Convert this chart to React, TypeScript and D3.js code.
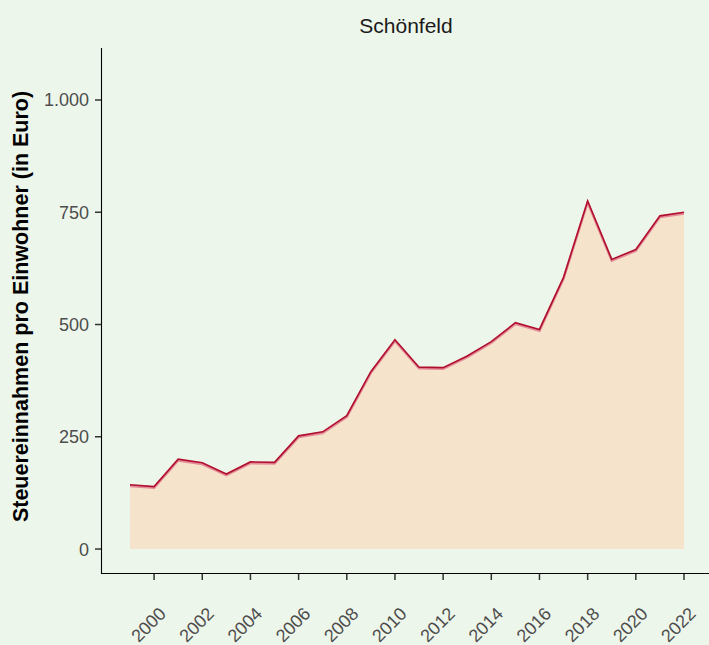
import React from "react";
import * as d3 from "d3";

const years = [1999, 2000, 2001, 2002, 2003, 2004, 2005, 2006, 2007, 2008, 2009, 2010, 2011, 2012, 2013, 2014, 2015, 2016, 2017, 2018, 2019, 2020, 2021, 2022];
const values = [143, 139, 200, 192, 167, 194, 193, 252, 261, 297, 395, 466, 405, 404, 430, 462, 504, 489, 605, 775, 645, 667, 742, 750];
const yTicks = [0, 250, 500, 750, 1000];
const xTicks = [2000, 2002, 2004, 2006, 2008, 2010, 2012, 2014, 2016, 2018, 2020, 2022];

const W = 709;
const H = 645;
const font = "Liberation Sans, Arial, sans-serif";

export default function App() {
  const x = d3.scaleLinear().domain([1999, 2022]).range([130, 684]);
  const y = d3.scaleLinear().domain([-53.4, 1115.8]).range([573, 48]);
  const data = years.map((yr, i) => ({ yr, v: values[i] }));
  const area = d3.area<{ yr: number; v: number }>().x(d => x(d.yr)).y0(y(0)).y1(d => y(d.v));
  const line = d3.line<{ yr: number; v: number }>().x(d => x(d.yr)).y(d => y(d.v));
  const fmt = (v: number) => d3.format(",")(v).replace(/,/g, ".");
  return (
    <svg width={W} height={H} style={{ position: "absolute", left: 0, top: 0, display: "block" }}>
      <rect x={0} y={0} width={W} height={H} fill="#EDF6EB" />
      <text x={17} y={-3} fontFamily={font} fontSize={12} fill="#4D4D4D">(Steuereinnahmen)</text>
      <text x={406} y={33} textAnchor="middle" fontFamily={font} fontSize={21} fill="#1A1A1A">Schönfeld</text>
      <path d={area(data) || ""} fill="#F5E3CB" />
      <path d={line(data) || ""} fill="none" stroke="#E48A98" strokeWidth={2.5} transform="translate(0,1.2)" strokeLinejoin="miter" />
      <path d={line(data) || ""} fill="none" stroke="#B0102E" strokeWidth={1.6} strokeLinejoin="miter" />
      <line x1={101.5} x2={101.5} y1={48} y2={573.5} stroke="#000" strokeWidth={1.1} />
      <line x1={101} x2={W} y1={573.5} y2={573.5} stroke="#000" strokeWidth={1.1} />
      {yTicks.map(t => (
        <g key={t}>
          <line x1={95} x2={101} y1={y(t)} y2={y(t)} stroke="#333" strokeWidth={1.5} />
          <text x={89} y={y(t)} dy="0.36em" textAnchor="end" fontFamily={font} fontSize={18} fill="#4D4D4D">{fmt(t)}</text>
        </g>
      ))}
      {xTicks.map(t => (
        <g key={t}>
          <line x1={x(t)} x2={x(t)} y1={574} y2={580} stroke="#333" strokeWidth={1.5} />
          <text transform={`translate(${x(t) + 4},${606}) rotate(-45)`} dy="0.7em" textAnchor="end" fontFamily={font} fontSize={18} fill="#4D4D4D">{t}</text>
        </g>
      ))}
      <text transform={`translate(28,${306.5}) rotate(-90)`} textAnchor="middle" fontFamily={font} fontSize={21.5} fontWeight="bold" fill="#000">Steuereinnahmen pro Einwohner (in Euro)</text>
    </svg>
  );
}
